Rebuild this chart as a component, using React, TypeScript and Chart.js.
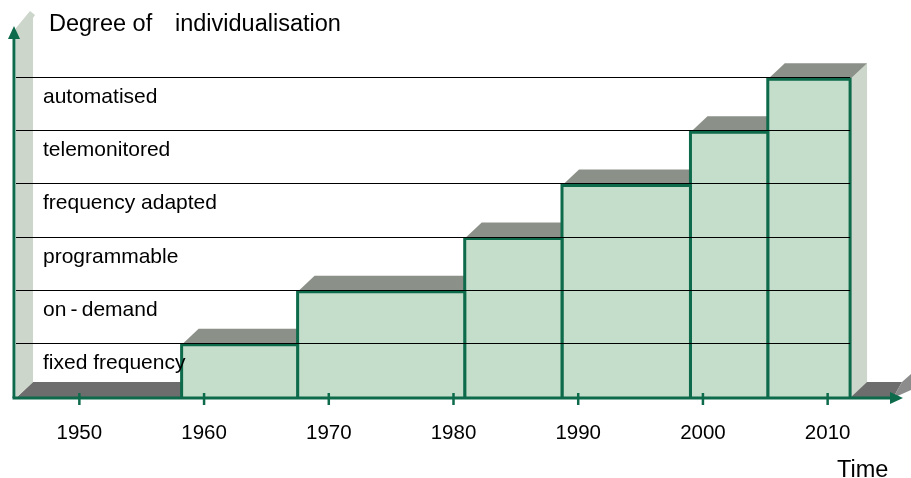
import React, { useEffect, useRef } from "react";
import { Chart, registerables } from "chart.js";

Chart.register(...registerables);

// ---- data ----
const tickYears = [1950, 1960, 1970, 1980, 1990, 2000, 2010];
const categories = [
  "fixed frequency",
  "on\u2009-\u2009demand",
  "programmable",
  "frequency adapted",
  "telemonitored",
  "automatised",
];
const barStart = [1958.2, 1967.5, 1980.9, 1988.7, 1999.0, 2005.2];
const barEnd = [1967.5, 1980.9, 1988.7, 1999.0, 2005.2, 2011.8];
const barLevel = [1, 2, 3, 4, 5, 6];
const yTitleParts = ["Degree of", "individualisation"];
const xTitle = "Time";

// ---- styles ----
const FONT = "'Liberation Sans', Arial, Helvetica, sans-serif";
const GREEN = "#0d6a4b";
const FILL = "#c4decb";
const TOP = "#8b9188";
const SIDE = "#cdd6cb";
const FLOOR = "#6d6d6d";
const DX = 17;
const DY = -16;

function poly(ctx: CanvasRenderingContext2D, pts: number[][], color: string) {
  ctx.beginPath();
  ctx.moveTo(pts[0][0], pts[0][1]);
  for (let i = 1; i < pts.length; i++) ctx.lineTo(pts[i][0], pts[i][1]);
  ctx.closePath();
  ctx.fillStyle = color;
  ctx.fill();
}

const decor = {
  id: "decor3d",
  beforeDatasetsDraw(chart: any) {
    const ctx: CanvasRenderingContext2D = chart.ctx;
    const xs = chart.scales.x;
    const ys = chart.scales.y;
    const y0 = ys.getPixelForValue(0);
    const left = 16;
    ctx.save();
    // floor
    poly(ctx, [[left, y0], [left + DX, y0 + DY], [902, y0 + DY], [893, y0]], FLOOR);
    poly(ctx, [[893, y0], [902, y0 + DY], [911, y0 + DY - 8], [911, y0 - 8]], "#8c8c8c");
    // left wall
    poly(ctx, [[left, y0], [left, 28], [30, 11], [35, 15], [33, 18], [left + DX, y0 + DY]], SIDE);
    // side faces & top faces
    for (let i = 0; i < barLevel.length; i++) {
      const x0 = xs.getPixelForValue(barStart[i]);
      const x1 = xs.getPixelForValue(barEnd[i]);
      const yt = ys.getPixelForValue(barLevel[i]);
      poly(ctx, [[x1, yt], [x1 + DX, yt + DY], [x1 + DX, y0 + DY], [x1, y0]], SIDE);
      poly(ctx, [[x0, yt], [x0 + DX, yt + DY], [x1 + DX, yt + DY], [x1, yt]], TOP);
    }
    ctx.restore();
  },
  afterDatasetsDraw(chart: any) {
    const ctx: CanvasRenderingContext2D = chart.ctx;
    const xs = chart.scales.x;
    const ys = chart.scales.y;
    const y0 = ys.getPixelForValue(0);
    const lastX = xs.getPixelForValue(barEnd[barEnd.length - 1]);
    ctx.save();
    // grid lines
    ctx.strokeStyle = "#000";
    ctx.lineWidth = 1.2;
    for (const lv of barLevel) {
      const y = Math.round(ys.getPixelForValue(lv) - 2) + 0.5;
      ctx.beginPath();
      ctx.moveTo(16, y);
      ctx.lineTo(lastX, y);
      ctx.stroke();
    }
    // category labels
    ctx.fillStyle = "#000";
    ctx.font = `21px ${FONT}`;
    ctx.textAlign = "left";
    ctx.textBaseline = "alphabetic";
    categories.forEach((c, i) => {
      const y = ys.getPixelForValue(barLevel[i]) + 24;
      ctx.fillText(c, 43, y);
    });
    // axes
    ctx.strokeStyle = GREEN;
    ctx.fillStyle = GREEN;
    ctx.lineWidth = 3;
    ctx.beginPath();
    ctx.moveTo(14, y0);
    ctx.lineTo(14, 36);
    ctx.stroke();
    poly(ctx, [[14, 26], [20, 39], [8, 39]], GREEN);
    ctx.beginPath();
    ctx.moveTo(12.5, y0);
    ctx.lineTo(892, y0);
    ctx.stroke();
    poly(ctx, [[903, y0], [890, y0 - 6], [890, y0 + 6]], GREEN);
    // ticks
    ctx.lineWidth = 2.5;
    for (const t of tickYears) {
      const x = xs.getPixelForValue(t);
      ctx.beginPath();
      ctx.moveTo(x, y0 - 5);
      ctx.lineTo(x, y0 + 7);
      ctx.stroke();
    }
    // tick labels
    ctx.fillStyle = "#000";
    ctx.font = `20.5px ${FONT}`;
    ctx.textAlign = "center";
    for (const t of tickYears) {
      ctx.fillText(String(t), xs.getPixelForValue(t), 439);
    }
    // titles
    ctx.font = `23.5px ${FONT}`;
    ctx.textAlign = "left";
    ctx.fillText(yTitleParts[0], 49, 31);
    ctx.fillText(yTitleParts[1], 175, 31);
    ctx.fillText(xTitle, 837, 477);
    ctx.restore();
  },
};

export default function App() {
  const ref = useRef<HTMLCanvasElement>(null);
  useEffect(() => {
    document.body.style.margin = "0";
    const datasets = barLevel.map((lv, i) => ({
      label: categories[i],
      data: [
        { x: barStart[i], y: 0 },
        { x: barStart[i], y: lv },
        { x: barEnd[i], y: lv },
        { x: barEnd[i], y: 0 },
      ],
      fill: "origin",
      backgroundColor: FILL,
      borderColor: GREEN,
      borderWidth: 3,
      borderJoinStyle: "miter",
      pointRadius: 0,
      tension: 0,
      clip: false,
    }));
    const chart = new Chart(ref.current!, {
      type: "line",
      data: { datasets: datasets as any },
      options: {
        animation: false,
        responsive: false,
        layout: { padding: { left: 17, right: 21, top: 26, bottom: 80 } },
        scales: {
          x: { type: "linear", min: 1945, max: 2015, display: false },
          y: { type: "linear", min: 0, max: 7, display: false },
        },
        plugins: { legend: { display: false }, tooltip: { enabled: false } },
        elements: { line: { borderCapStyle: "butt" } },
      },
      plugins: [decor],
    });
    return () => chart.destroy();
  }, []);
  return (
    <div style={{ position: "absolute", left: 0, top: 0, width: 911, height: 478, background: "#fff" }}>
      <canvas ref={ref} width={911} height={478} style={{ display: "block" }} />
    </div>
  );
}
